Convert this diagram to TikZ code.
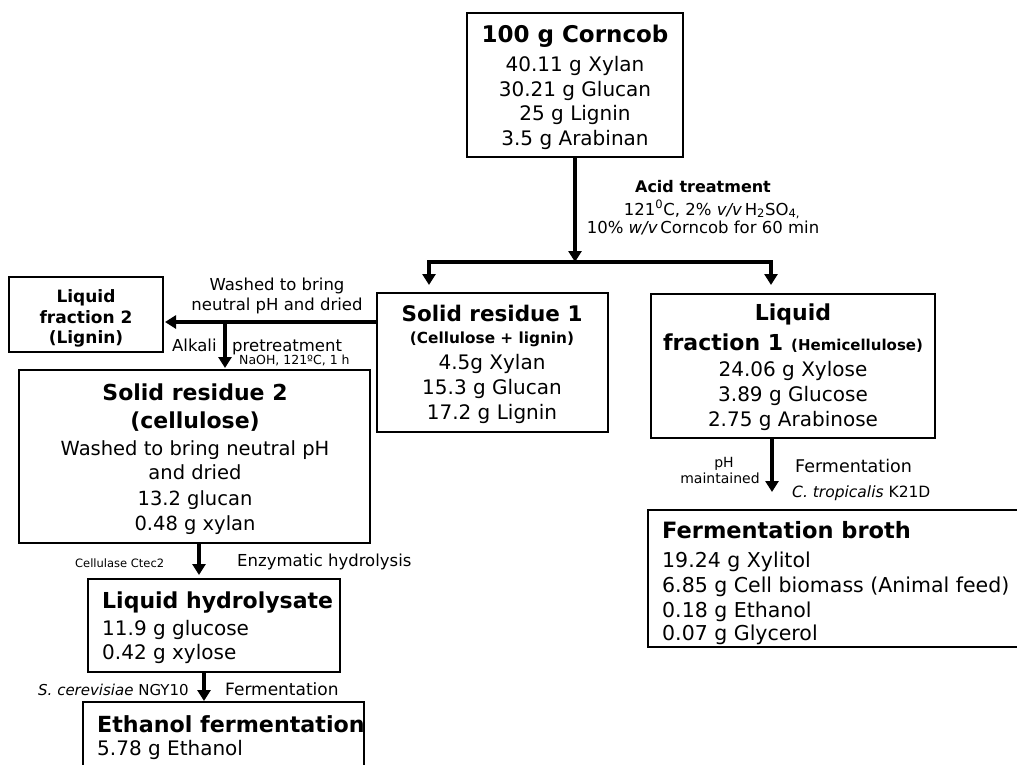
\documentclass[tikz,border=0pt]{standalone}
\usepackage{fontspec}
\setmainfont{DejaVu Sans}
\usetikzlibrary{arrows.meta}
\newcommand{\fsz}[1]{\fontsize{#1}{#1}\selectfont}
\begin{document}
\begin{tikzpicture}[x=1pt,y=-1pt,
  box/.style={draw,line width=1.4pt,inner sep=0pt,outer sep=0pt,anchor=north west},
  t/.style={inner sep=0pt,anchor=base},
  tl/.style={inner sep=0pt,anchor=base west},
  flow/.style={line width=3.6pt,-{Triangle[width=13pt,length=11pt]}},
  main/.style={font=\fsz{20}},
  broth/.style={font=\fsz{20.5}},
  ttl/.style={font=\bfseries\fsz{22}},
]
\clip (0,0) rectangle (1017,765);
\fill[white] (0,0) rectangle (1017,765);

% boxes
\node[box,minimum width=216pt,minimum height=144pt] (corn) at (467,13) {};
\node[box,minimum width=231pt,minimum height=139pt] (sr1) at (377,293) {};
\node[box,minimum width=284pt,minimum height=144pt] (lf1) at (651,294) {};
\node[box,minimum width=154pt,minimum height=75pt] (lf2) at (9,277) {};
\node[box,minimum width=351pt,minimum height=173pt] (sr2) at (19,370) {};
\node[box,minimum width=252pt,minimum height=93pt] (lh) at (88,579) {};
\node[box,minimum width=281pt,minimum height=80pt] (ef) at (83,702) {};
\node[box,minimum width=390pt,minimum height=137pt] (fb) at (648,510) {};

% connectors
\coordinate (bar) at (575,262);
\coordinate (bl) at (429,262);
\coordinate (br) at (771,262);
\draw[flow] (corn.south) -- (bar);
\draw[line width=4pt,line cap=rect] (bl) -- (br);
\draw[flow,shorten >=8pt] (bl) -- (bl |- sr1.north);
\draw[flow,shorten >=9pt] (br) -- (br |- lf1.north);
\path (sr1.north west) ++(0,29) coordinate (h1);
\coordinate (h2) at (225,322);
\draw[flow,shorten >=2pt] (h1) -- (h1 -| lf2.east);
\draw[flow,shorten >=2pt] (h2) -- (h2 |- sr2.north);
\path (sr2.south west) ++(180,0) coordinate (a3);
\draw[flow,shorten >=4pt] (a3) -- (a3 |- lh.north);
\path (lh.south west) ++(116,0) coordinate (a4);
\draw[flow,shorten >=1pt] (a4) -- (a4 |- ef.north);
\path (lf1.south west) ++(121,0) coordinate (a5);
\draw[flow,shorten >=18pt] (a5) -- (a5 |- fb.north);

% top box text
\node[t,font=\bfseries\fsz{23}] (c0) at (575,43) {100 g Corncob};
\node[t,main] (c1) at (575,72) {40.11 g Xylan};
\node[t,main] (c2) at (575,97) {30.21 g Glucan};
\node[t,main] (c3) at (575,121) {25 g Lignin};
\node[t,main] (c4) at (575,146) {3.5 g Arabinan};

% acid treatment label
\node[t,font=\bfseries\fsz{16}] (a0) at (703,192) {Acid treatment};
\node[t,font=\fsz{16.5}] (a1) at (712,215) {121\textsuperscript{0}C, 2\% \textit{v/v}\,H\textsubscript{2}SO\textsubscript{4,}};
\node[t,font=\fsz{16.5}] (a2) at (703,233) {10\% \textit{w/v}\,Corncob for 60 min};

% washed / alkali labels
\node[t,font=\fsz{16.5}] (w1) at (277,290) {Washed to bring};
\node[t,font=\fsz{16.5}] (w2) at (277,310) {neutral pH and dried};
\node[tl,font=\fsz{16.5}] (k1) at (172,351) {Alkali};
\node[tl,font=\fsz{16.5}] (k2) at (232,351) {pretreatment};
\node[tl,font=\fsz{12.5}] (k3) at (239,364) {NaOH, 121ºC, 1 h};

% liquid fraction 2
\node[t,font=\bfseries\fsz{17}] (l20) at (86,302) {Liquid};
\node[t,font=\bfseries\fsz{17}] (l21) at (86,323) {fraction 2};
\node[t,font=\bfseries\fsz{17}] (l22) at (86,343) {(Lignin)};

% solid residue 1
\node[t,font=\bfseries\fsz{21.5}] (s10) at (492,321) {Solid residue 1};
\node[t,font=\bfseries\fsz{15.3}] (s11) at (492,343) {(Cellulose + lignin)};
\node[t,main] (s12) at (492,369) {4.5g Xylan};
\node[t,main] (s13) at (492,394) {15.3 g Glucan};
\node[t,main] (s14) at (492,419) {17.2 g Lignin};

% liquid fraction 1
\node[t,ttl] (l10) at (793,320) {Liquid};
\node[t,ttl] (l11) at (793,350) {fraction 1\hspace{8pt}{\fsz{15}(Hemicellulose)}};
\node[t,main] (l12) at (793,376) {24.06 g Xylose};
\node[t,main] (l13) at (793,401) {3.89 g Glucose};
\node[t,main] (l14) at (793,426) {2.75 g Arabinose};

% solid residue 2
\node[t,ttl] (s20) at (195,400) {Solid residue 2};
\node[t,ttl] (s21) at (195,428) {(cellulose)};
\node[t,font=\fsz{19.5}] (s22) at (195,455) {Washed to bring neutral pH};
\node[t,font=\fsz{19.5}] (s23) at (195,479) {and dried};
\node[t,font=\fsz{19.5}] (s24) at (195,505) {13.2 glucan};
\node[t,font=\fsz{19.5}] (s25) at (195,530) {0.48 g xylan};

% liquid hydrolysate
\node[tl,ttl] (h0) at (102,608) {Liquid hydrolysate};
\node[tl,main] (h1t) at (102,635) {11.9 g glucose};
\node[tl,main] (h2t) at (102,659) {0.42 g xylose};

% ethanol fermentation
\node[tl,font=\bfseries\fsz{22.2}] (e0) at (97,732) {Ethanol fermentation};
\node[tl,main] (e1) at (97,755) {5.78 g Ethanol};

% fermentation broth
\node[tl,font=\bfseries\fsz{22.5}] (f0) at (662,538) {Fermentation broth};
\node[tl,broth] (f1) at (662,567) {19.24 g Xylitol};
\node[tl,broth] (f2) at (662,592) {6.85 g Cell biomass (Animal feed)};
\node[tl,broth] (f3) at (662,617) {0.18 g Ethanol};
\node[tl,broth] (f4) at (662,640) {0.07 g Glycerol};

% arrow labels
\node[tl,font=\fsz{11.5}] (g1) at (75,567) {Cellulase Ctec2};
\node[tl,font=\fsz{16.5}] (g2) at (237,566) {Enzymatic hydrolysis};
\node[tl,font=\fsz{15}] (g3) at (38,695) {\textit{S. cerevisiae} NGY10};
\node[tl,font=\fsz{17}] (g4) at (225,695) {Fermentation};
\node[t,font=\fsz{14}] (p1) at (724,467) {pH};
\node[t,font=\fsz{14}] (p2) at (720,483) {maintained};
\node[tl,font=\fsz{17.5}] (p3) at (795,472) {Fermentation};
\node[tl,font=\fsz{15.5}] (p4) at (792,497) {\textit{C. tropicalis} K21D};
\end{tikzpicture}
\end{document}
